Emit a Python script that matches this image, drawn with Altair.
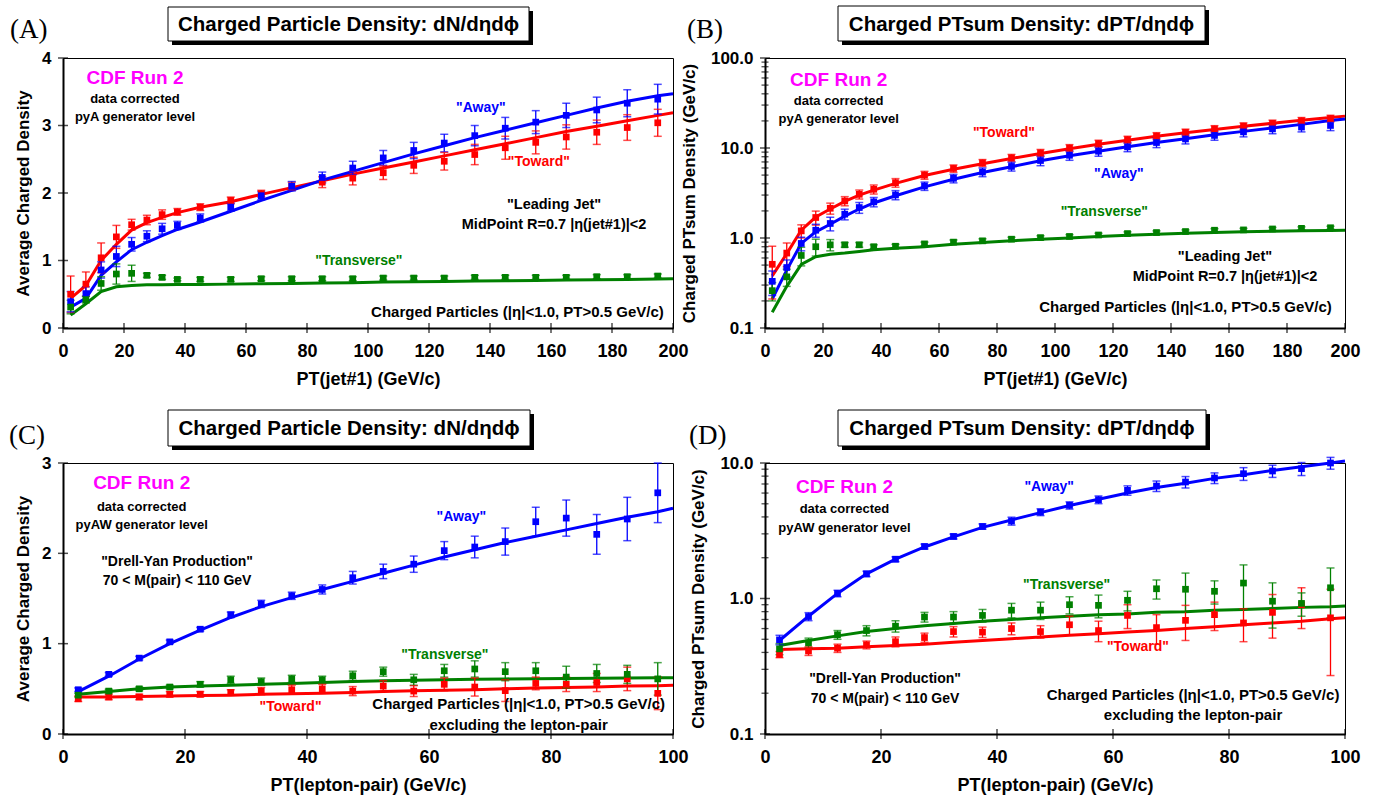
import altair as alt
import pandas as pd

FONT = "Liberation Sans, Arial, Helvetica, sans-serif"
SERIF = "Liberation Serif, Times New Roman, serif"
SERIES = ["Toward", "Away", "Transverse"]
COLORS = ["#ff0000", "#0000ff", "#008000"]

# ---------------- Panel A : dN/deta dphi vs PT(jet#1) ----------------
A_x = [2.5, 7.5, 12.5, 17.5, 22.5, 27.5, 32.5, 37.5, 45, 55, 65, 75, 85, 95,
       105, 115, 125, 135, 145, 155, 165, 175, 185, 195]
A_toward = [0.50, 0.65, 1.04, 1.35, 1.53, 1.60, 1.68, 1.72, 1.79, 1.89, 1.99, 2.10,
            2.16, 2.22, 2.30, 2.41, 2.47, 2.57, 2.67, 2.75, 2.83, 2.90, 2.97, 3.04]
A_toward_err = [0.27, 0.18, 0.22, 0.17, 0.08, 0.07, 0.07, 0.05, 0.05, 0.05, 0.05, 0.06,
                0.08, 0.10, 0.10, 0.12, 0.13, 0.15, 0.17, 0.17, 0.18, 0.18, 0.19, 0.20]
A_away = [0.39, 0.51, 0.86, 1.06, 1.24, 1.36, 1.47, 1.52, 1.63, 1.79, 1.96, 2.10,
          2.23, 2.37, 2.52, 2.63, 2.74, 2.85, 2.96, 3.05, 3.15, 3.23, 3.33, 3.39]
A_away_err = [0.15, 0.10, 0.12, 0.15, 0.10, 0.08, 0.08, 0.06, 0.06, 0.06, 0.06, 0.07,
              0.08, 0.10, 0.11, 0.12, 0.13, 0.15, 0.16, 0.17, 0.18, 0.19, 0.20, 0.22]
A_trans = [0.31, 0.42, 0.66, 0.80, 0.81, 0.78, 0.75, 0.72, 0.72, 0.72, 0.73, 0.73,
           0.73, 0.73, 0.74, 0.74, 0.74, 0.75, 0.75, 0.75, 0.75, 0.76, 0.76, 0.77]
A_trans_err = [0.10, 0.05, 0.10, 0.15, 0.12, 0.03, 0.03, 0.02, 0.03, 0.03, 0.03, 0.03,
               0.03, 0.03, 0.03, 0.03, 0.03, 0.03, 0.03, 0.03, 0.03, 0.03, 0.03, 0.03]
A_line_x = [2.5, 7.5, 12.5, 17.5, 22.5, 27.5, 32.5, 37.5, 45, 55, 65, 75, 85, 95,
            105, 115, 125, 135, 145, 155, 165, 175, 185, 195, 200]
A_line_toward = [0.44, 0.63, 1.00, 1.24, 1.45, 1.56, 1.64, 1.71, 1.79, 1.87, 1.98, 2.08, 2.18,
                 2.28, 2.37, 2.46, 2.55, 2.64, 2.73, 2.82, 2.91, 2.99, 3.07, 3.15, 3.19]
A_line_away = [0.31, 0.44, 0.78, 0.98, 1.16, 1.27, 1.37, 1.46, 1.57, 1.73, 1.89, 2.04, 2.19,
               2.32, 2.45, 2.58, 2.70, 2.82, 2.93, 3.04, 3.15, 3.26, 3.36, 3.44, 3.47]
A_line_trans = [0.19, 0.36, 0.54, 0.61, 0.63, 0.64, 0.64, 0.645, 0.645, 0.65, 0.655, 0.66, 0.665,
                0.67, 0.68, 0.685, 0.69, 0.695, 0.70, 0.705, 0.71, 0.715, 0.72, 0.725, 0.73]
A_note_text = ["CDF Run 2", "data corrected", "pyA generator level", '"Away"', '"Toward"',
               '"Leading Jet"', "MidPoint R=0.7 |η(jet#1)|<2", '"Transverse"',
               "Charged Particles (|η|<1.0, PT>0.5 GeV/c)"]
A_note_x = [23.6, 23.6, 23.6, 137, 156, 161, 161, 97, 149]
A_note_y = [3.70, 3.39, 3.13, 3.26, 2.46, 1.82, 1.52, 0.99, 0.24]
A_note_color = ["#ff00ff", "black", "black", "#0000ff", "#ff0000", "black", "black", "#008000", "black"]
A_note_size = [19, 13, 13, 14, 14, 14.5, 14.5, 14, 15]

# ---------------- Panel B : dPT/deta dphi vs PT(jet#1) ----------------
B_x = A_x
B_toward = [0.51, 0.68, 1.20, 1.69, 2.14, 2.58, 3.06, 3.48, 4.12, 5.00, 5.93, 6.84,
            7.78, 8.83, 10.0, 11.2, 12.4, 13.6, 14.9, 16.3, 17.5, 18.8, 20.1, 21.3]
B_toward_err = [0.30, 0.20, 0.20, 0.30, 0.30, 0.30, 0.35, 0.40, 0.45, 0.50, 0.55, 0.60,
                0.70, 0.80, 0.90, 1.00, 1.10, 1.20, 1.30, 1.40, 1.50, 1.60, 1.70, 1.80]
B_away = [0.33, 0.47, 0.87, 1.22, 1.45, 1.84, 2.18, 2.52, 3.01, 3.78, 4.60, 5.40,
          6.24, 7.26, 8.30, 9.20, 10.3, 11.5, 12.6, 13.8, 15.1, 16.3, 17.1, 17.8]
B_away_err = [0.10, 0.10, 0.15, 0.20, 0.25, 0.25, 0.30, 0.30, 0.35, 0.40, 0.50, 0.60,
              0.70, 0.90, 1.00, 1.10, 1.20, 1.40, 1.50, 1.60, 1.80, 1.90, 2.00, 2.20]
B_trans = [0.26, 0.37, 0.64, 0.80, 0.84, 0.84, 0.84, 0.80, 0.81, 0.86, 0.90, 0.93,
           0.97, 1.01, 1.04, 1.08, 1.12, 1.15, 1.18, 1.22, 1.23, 1.26, 1.28, 1.30]
B_trans_err = [0.06, 0.08, 0.15, 0.17, 0.12, 0.05, 0.05, 0.04, 0.04, 0.04, 0.05, 0.05,
               0.05, 0.05, 0.05, 0.05, 0.05, 0.05, 0.05, 0.05, 0.05, 0.05, 0.05, 0.05]
B_line_x = A_line_x
B_line_toward = [0.38, 0.67, 1.22, 1.71, 2.10, 2.55, 3.00, 3.40, 4.05, 4.95, 5.80, 6.70, 7.65,
                 8.70, 9.80, 11.0, 12.2, 13.5, 14.8, 16.1, 17.4, 18.8, 20.3, 21.8, 22.6]
B_line_away = [0.21, 0.44, 0.87, 1.17, 1.42, 1.75, 2.10, 2.45, 2.95, 3.70, 4.50, 5.35, 6.20,
               7.20, 8.20, 9.20, 10.3, 11.5, 12.7, 14.0, 15.3, 16.7, 18.3, 20.2, 21.0]
B_line_trans = [0.15, 0.29, 0.51, 0.62, 0.66, 0.68, 0.71, 0.74, 0.77, 0.80, 0.85, 0.89, 0.93,
                0.97, 1.00, 1.04, 1.07, 1.10, 1.13, 1.15, 1.17, 1.19, 1.20, 1.21, 1.22]
B_note_text = ["CDF Run 2", "data corrected", "pyA generator level", '"Toward"', '"Away"',
               '"Transverse"', '"Leading Jet"', "MidPoint R=0.7 |η(jet#1)|<2",
               "Charged Particles (|η|<1.0, PT>0.5 GeV/c)"]
B_note_x = [25.4, 25.4, 25.4, 82.4, 122, 117, 158.6, 158.6, 145]
B_note_y = [57, 33, 21, 14.8, 5.2, 1.93, 0.61, 0.367, 0.17]
B_note_color = ["#ff00ff", "black", "black", "#ff0000", "#0000ff", "#008000", "black", "black", "black"]
B_note_size = [19, 13, 13, 14, 14, 14, 14.5, 14.5, 15]

# ---------------- Panel C : dN/deta dphi vs PT(lepton-pair) ----------------
C_x = [2.5, 7.5, 12.5, 17.5, 22.5, 27.5, 32.5, 37.5, 42.5, 47.5,
       52.5, 57.5, 62.5, 67.5, 72.5, 77.5, 82.5, 87.5, 92.5, 97.5]
C_toward = [0.39, 0.41, 0.41, 0.44, 0.44, 0.46, 0.475, 0.49, 0.50, 0.475,
            0.53, 0.475, 0.55, 0.52, 0.48, 0.56, 0.55, 0.57, 0.61, 0.45]
C_toward_err = [0.03, 0.03, 0.03, 0.03, 0.03, 0.03, 0.04, 0.05, 0.05, 0.05,
                0.06, 0.06, 0.07, 0.10, 0.12, 0.07, 0.08, 0.10, 0.13, 0.18]
C_away = [0.49, 0.66, 0.84, 1.02, 1.16, 1.32, 1.44, 1.53, 1.60, 1.73,
          1.80, 1.88, 2.03, 2.07, 2.13, 2.35, 2.39, 2.21, 2.38, 2.67]
C_away_err = [0.02, 0.02, 0.02, 0.02, 0.02, 0.03, 0.04, 0.04, 0.05, 0.07,
              0.08, 0.09, 0.10, 0.12, 0.15, 0.16, 0.20, 0.22, 0.24, 0.33]
C_trans = [0.43, 0.475, 0.50, 0.52, 0.55, 0.60, 0.58, 0.61, 0.60, 0.645,
           0.69, 0.60, 0.70, 0.72, 0.69, 0.70, 0.63, 0.67, 0.66, 0.61]
C_trans_err = [0.02, 0.02, 0.02, 0.02, 0.03, 0.04, 0.04, 0.04, 0.04, 0.05,
               0.05, 0.06, 0.07, 0.09, 0.10, 0.09, 0.12, 0.10, 0.10, 0.18]
C_line_x = [2.5, 7.5, 12.5, 17.5, 22.5, 27.5, 32.5, 37.5, 42.5, 47.5,
            52.5, 57.5, 62.5, 67.5, 72.5, 77.5, 82.5, 87.5, 92.5, 97.5, 100]
C_line_toward = [0.41, 0.41, 0.415, 0.42, 0.425, 0.43, 0.44, 0.445, 0.45, 0.46, 0.47,
                 0.48, 0.485, 0.49, 0.50, 0.51, 0.515, 0.52, 0.53, 0.535, 0.54]
C_line_away = [0.47, 0.64, 0.83, 1.00, 1.15, 1.29, 1.41, 1.51, 1.60, 1.69, 1.78,
               1.87, 1.96, 2.04, 2.12, 2.19, 2.26, 2.33, 2.40, 2.46, 2.50]
C_line_trans = [0.44, 0.47, 0.50, 0.52, 0.53, 0.54, 0.55, 0.56, 0.57, 0.58, 0.59,
                0.595, 0.60, 0.605, 0.61, 0.612, 0.615, 0.618, 0.62, 0.622, 0.623]
C_note_text = ["CDF Run 2", "data corrected", "pyAW generator level", '"Drell-Yan Production"',
               "70 < M(pair) < 110 GeV", '"Away"', '"Transverse"', '"Toward"',
               "Charged Particles (|η|<1.0, PT>0.5 GeV/c)", "excluding the lepton-pair"]
C_note_x = [12.9, 12.9, 12.9, 18.7, 18.7, 65.3, 62.6, 37.3, 74.7, 74.7]
C_note_y = [2.78, 2.51, 2.31, 1.90, 1.69, 2.40, 0.87, 0.30, 0.33, 0.10]
C_note_color = ["#ff00ff", "black", "black", "black", "black", "#0000ff", "#008000", "#ff0000", "black", "black"]
C_note_size = [19, 13, 13, 14, 14, 14, 14, 14, 15, 15]

# ---------------- Panel D : dPT/deta dphi vs PT(lepton-pair) ----------------
D_x = C_x
D_toward = [0.386, 0.41, 0.43, 0.455, 0.48, 0.515, 0.57, 0.565, 0.60, 0.57,
            0.64, 0.58, 0.75, 0.61, 0.69, 0.76, 0.66, 0.79, 0.90, 0.72]
D_toward_err = [0.02, 0.03, 0.03, 0.03, 0.04, 0.04, 0.05, 0.05, 0.06, 0.06,
                0.10, 0.10, 0.15, 0.15, 0.20, 0.18, 0.18, 0.28, 0.30, 0.45]
D_away = [0.495, 0.736, 1.09, 1.52, 1.95, 2.42, 2.87, 3.40, 3.73, 4.34,
          4.87, 5.36, 6.28, 6.76, 7.24, 7.75, 8.34, 8.73, 9.08, 10.0]
D_away_err = [0.04, 0.05, 0.06, 0.07, 0.08, 0.10, 0.12, 0.15, 0.25, 0.25,
              0.30, 0.35, 0.50, 0.60, 0.70, 0.70, 0.90, 0.90, 1.00, 1.00]
D_trans = [0.425, 0.47, 0.54, 0.58, 0.625, 0.73, 0.73, 0.75, 0.82, 0.82,
           0.90, 0.89, 0.97, 1.18, 1.17, 1.13, 1.30, 0.955, 0.92, 1.20]
D_trans_err = [0.04, 0.04, 0.04, 0.05, 0.06, 0.06, 0.07, 0.08, 0.10, 0.12,
               0.13, 0.17, 0.16, 0.19, 0.37, 0.22, 0.47, 0.35, 0.18, 0.48]
D_line_x = C_line_x
D_line_toward = [0.42, 0.425, 0.43, 0.44, 0.45, 0.46, 0.475, 0.49, 0.505, 0.52, 0.535,
                 0.55, 0.565, 0.58, 0.60, 0.62, 0.64, 0.66, 0.68, 0.71, 0.72]
D_line_away = [0.49, 0.74, 1.09, 1.52, 1.95, 2.40, 2.85, 3.35, 3.80, 4.30, 4.85,
               5.40, 6.00, 6.60, 7.10, 7.70, 8.20, 8.80, 9.40, 10.0, 10.35]
D_line_trans = [0.45, 0.49, 0.53, 0.57, 0.60, 0.63, 0.655, 0.68, 0.70, 0.72, 0.74,
                0.76, 0.77, 0.79, 0.80, 0.82, 0.83, 0.845, 0.86, 0.87, 0.88]
D_note_text = ["CDF Run 2", "data corrected", "pyAW generator level", '"Away"', '"Transverse"',
               '"Toward"', '"Drell-Yan Production"', "70 < M(pair) < 110 GeV",
               "Charged Particles (|η|<1.0, PT>0.5 GeV/c)", "excluding the lepton-pair"]
D_note_x = [13.7, 13.7, 13.7, 49, 52, 64.3, 20.7, 20.7, 73.8, 73.8]
D_note_y = [6.6, 4.56, 3.3, 6.6, 1.25, 0.44, 0.255, 0.18, 0.195, 0.138]
D_note_color = ["#ff00ff", "black", "black", "#0000ff", "#008000", "#ff0000", "black", "black", "black", "black"]
D_note_size = [19, 13, 13, 14, 14, 14, 14, 14, 15, 15]

# ---------------- axis ticks ----------------
X200_ticks = [0, 20, 40, 60, 80, 100, 120, 140, 160, 180, 200]
X100_ticks = [0, 20, 40, 60, 80, 100]
A_yticks = [0, 1, 2, 3, 4]
A_yminor = []
C_yticks = [0, 1, 2, 3]
C_yminor = []
B_yticks = [0.1, 1, 10, 100]
B_yminor = [0.2, 0.3, 0.4, 0.5, 0.6, 0.7, 0.8, 0.9, 2, 3, 4, 5, 6, 7, 8, 9,
            20, 30, 40, 50, 60, 70, 80, 90]
D_yticks = [0.1, 1, 10]
D_yminor = [0.2, 0.3, 0.4, 0.5, 0.6, 0.7, 0.8, 0.9, 2, 3, 4, 5, 6, 7, 8, 9]


def x_axis(values, title):
    return alt.Axis(values=values, title=title, grid=False, domainColor="black", domainWidth=2,
                    ticks=False, labelFont=FONT, labelFontSize=18,
                    labelFontWeight="bold", labelColor="black", labelPadding=14, labelFlush=False,
                    labelOverlap=False, titleFont=FONT, titleFontSize=18, titleFontWeight="bold",
                    titleColor="black", titlePadding=10, format="d")


def y_axis(values, title, log):
    return alt.Axis(values=values, title=title, grid=False, domainColor="black", domainWidth=2,
                    ticks=False, labelFont=FONT, labelFontSize=17,
                    labelFontWeight="bold", labelColor="black", labelPadding=12, labelFlush=False,
                    labelOverlap=False, titleFont=FONT, titleFontSize=17, titleFontWeight="bold",
                    titleColor="black", format=".1f" if log else "d",
                    titlePadding=12 if log else 9)


def panel(px, series, errs, lx, lseries, notes, xdom, xticks, xtitle, ydom, yticks, yminor,
          ytitle, log, title, box, label, label_xy, width, height):
    pts = []
    for name, vals, err in zip(SERIES, series, errs):
        pts.append(pd.DataFrame({"x": px, "y": vals,
                                 "lo": [v - e for v, e in zip(vals, err)],
                                 "hi": [v + e for v, e in zip(vals, err)],
                                 "s": name}))
    pts = pd.concat(pts, ignore_index=True)
    lines = pd.concat([pd.DataFrame({"x": lx, "y": v, "s": n}) for n, v in zip(SERIES, lseries)],
                      ignore_index=True)
    ntext, nx, ny, ncol, nsize = notes
    ndf = pd.DataFrame({"x": nx, "y": ny, "t": ntext, "c": ncol, "fs": nsize})

    xa = x_axis(xticks, xtitle)
    ya = y_axis(yticks, ytitle, log)
    xscale = alt.Scale(domain=xdom, nice=False, zero=False)
    if log:
        yscale = alt.Scale(type="log", domain=ydom, nice=False)
    else:
        yscale = alt.Scale(domain=ydom, nice=False, zero=False)
    color = alt.Color("s:N", scale=alt.Scale(domain=SERIES, range=COLORS), legend=None)

    X = alt.X("x:Q", scale=xscale, axis=xa)
    line = alt.Chart(lines).mark_line(strokeWidth=3).encode(
        x=X, y=alt.Y("y:Q", scale=yscale, axis=ya), color=color, detail="s:N")
    rule = alt.Chart(pts).mark_rule(strokeWidth=1.3).encode(
        x=X, y=alt.Y("lo:Q", scale=yscale, axis=ya), y2="hi:Q", color=color)
    cap_lo = alt.Chart(pts).mark_tick(orient="horizontal", size=8, thickness=1.5).encode(
        x=X, y=alt.Y("lo:Q", scale=yscale, axis=ya), color=color)
    cap_hi = alt.Chart(pts).mark_tick(orient="horizontal", size=8, thickness=1.5).encode(
        x=X, y=alt.Y("hi:Q", scale=yscale, axis=ya), color=color)
    sq = alt.Chart(pts).mark_square(size=45, opacity=1).encode(
        x=X, y=alt.Y("y:Q", scale=yscale, axis=ya), color=color)
    txt = alt.Chart(ndf).mark_text(font=FONT, fontWeight="bold", align="center",
                                   baseline="middle").encode(
        x=X, y=alt.Y("y:Q", scale=yscale, axis=ya), text="t:N",
        color=alt.Color("c:N", scale=None), size=alt.Size("fs:Q", scale=None))

    # axis tick marks straddling the axis lines
    xt = alt.Chart(pd.DataFrame({"v": xticks})).mark_tick(
        orient="vertical", size=10, thickness=1.5, color="black").encode(
        x=alt.X("v:Q", scale=xscale, axis=xa), y=alt.datum(ydom[0]))
    yt = alt.Chart(pd.DataFrame({"v": yticks})).mark_tick(
        orient="horizontal", size=10, thickness=1.5, color="black").encode(
        y=alt.Y("v:Q", scale=yscale, axis=ya), x=alt.datum(xdom[0]))
    layers = [line, rule, cap_lo, cap_hi, sq, txt, xt, yt]
    if yminor:
        ym = alt.Chart(pd.DataFrame({"v": yminor})).mark_tick(
            orient="horizontal", size=7, thickness=1.3, color="black").encode(
            y=alt.Y("v:Q", scale=yscale, axis=ya), x=alt.datum(xdom[0]))
        layers.append(ym)

    tdf = pd.DataFrame({"t": [title], "lab": [label]})
    b0, b1, t0, t1 = box
    shadow = alt.Chart(tdf).mark_rect(fill="black").encode(
        x=alt.value(b0 + 4), x2=alt.value(b1 + 4), y=alt.value(t0 + 4), y2=alt.value(t1 + 4))
    frame = alt.Chart(tdf).mark_rect(fill="white", stroke="black", strokeWidth=1).encode(
        x=alt.value(b0), x2=alt.value(b1), y=alt.value(t0), y2=alt.value(t1))
    ttl = alt.Chart(tdf).mark_text(font=FONT, fontSize=20.5, fontWeight="bold", color="black",
                                   baseline="middle", align="center").encode(
        x=alt.value((b0 + b1) / 2), y=alt.value((t0 + t1) / 2 + 1), text="t:N")
    lab = alt.Chart(tdf).mark_text(font=SERIF, fontSize=27, color="black", align="left",
                                   baseline="middle").encode(
        x=alt.value(label_xy[0]), y=alt.value(label_xy[1]), text="lab:N")
    layers += [shadow, frame, ttl, lab]

    return alt.layer(*layers).properties(width=width, height=height)


pA = panel(A_x, [A_toward, A_away, A_trans], [A_toward_err, A_away_err, A_trans_err],
           A_line_x, [A_line_toward, A_line_away, A_line_trans],
           (A_note_text, A_note_x, A_note_y, A_note_color, A_note_size),
           [0, 200], X200_ticks, "PT(jet#1)  (GeV/c)", [0, 4], A_yticks, A_yminor,
           "Average Charged Density",
           False, "Charged Particle Density: dN/dηdϕ", (105, 466, -51, -17), "(A)", (-53, -28), 610, 270)
pB = panel(B_x, [B_toward, B_away, B_trans], [B_toward_err, B_away_err, B_trans_err],
           B_line_x, [B_line_toward, B_line_away, B_line_trans],
           (B_note_text, B_note_x, B_note_y, B_note_color, B_note_size),
           [0, 200], X200_ticks, "PT(jet#1)  (GeV/c)", [0.1, 100], B_yticks, B_yminor,
           "Charged  PTsum Density (GeV/c)",
           True, "Charged PTsum Density: dPT/dηdϕ", (73, 440, -52, -17), "(B)", (-78, -28), 580, 270)
pC = panel(C_x, [C_toward, C_away, C_trans], [C_toward_err, C_away_err, C_trans_err],
           C_line_x, [C_line_toward, C_line_away, C_line_trans],
           (C_note_text, C_note_x, C_note_y, C_note_color, C_note_size),
           [0, 100], X100_ticks, "PT(lepton-pair)  (GeV/c)", [0, 3], C_yticks, C_yminor,
           "Average Charged Density",
           False, "Charged Particle Density: dN/dηdϕ", (105, 467, -53, -17), "(C)", (-54, -27), 610, 271)
pD = panel(D_x, [D_toward, D_away, D_trans], [D_toward_err, D_away_err, D_trans_err],
           D_line_x, [D_line_toward, D_line_away, D_line_trans],
           (D_note_text, D_note_x, D_note_y, D_note_color, D_note_size),
           [0, 100], X100_ticks, "PT(lepton-pair)  (GeV/c)", [0.1, 10], D_yticks, D_yminor,
           "Charged  PTsum Density (GeV/c)",
           True, "Charged PTsum Density: dPT/dηdϕ", (73, 441, -53, -17), "(D)", (-76, -27), 580, 271)

chart = alt.concat(pA, pB, pC, pD, columns=2, spacing={"row": 135, "column": 92},
                   bounds="flush").properties(
    padding={"left": 8, "top": 5, "right": 5, "bottom": 5},
    background="white",
).configure_view(stroke="black", strokeWidth=1)

chart.save("out.html", embed_options={"renderer": "svg", "actions": False})
